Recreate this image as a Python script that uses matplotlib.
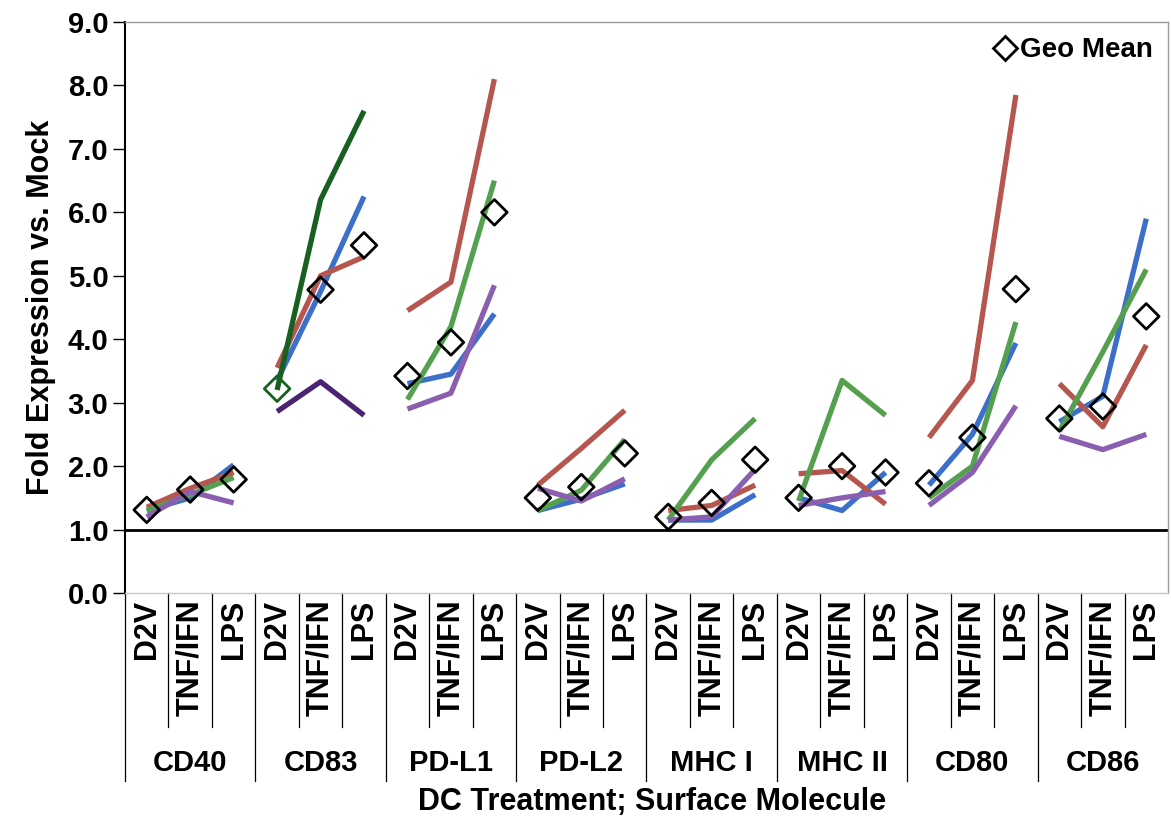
import matplotlib
matplotlib.use("Agg")
import matplotlib.pyplot as plt
from matplotlib.lines import Line2D
import numpy as np

plt.rcParams['font.family'] = ['Liberation Sans', 'DejaVu Sans']
plt.rcParams['font.weight'] = 'bold'

molecules = ['CD40', 'CD83', 'PD-L1', 'PD-L2', 'MHC I', 'MHC II', 'CD80', 'CD86']
treatments = ['D2V', 'TNF/IFN', 'LPS']

# fold expression per donor, 3 treatments per molecule
donor_blue = [1.30, 1.50, 2.02, 3.35, 4.75, 6.25, 3.30, 3.45, 4.40, 1.30, 1.48, 1.72,
              1.15, 1.15, 1.55, 1.50, 1.30, 1.90, 1.70, 2.50, 3.94, 2.70, 3.10, 5.90]
donor_red = [1.35, 1.65, 1.90, 3.55, 5.00, 5.30, 4.45, 4.90, 8.10, 1.70, 2.28, 2.88,
             1.30, 1.38, 1.70, 1.88, 1.93, 1.40, 2.45, 3.35, 7.85, 3.30, 2.62, 3.91]
donor_green = [1.30, 1.55, 1.82, 3.20, 6.20, 7.60, 3.05, 4.20, 6.50, 1.30, 1.62, 2.42,
               1.15, 2.10, 2.75, 1.45, 3.35, 2.80, 1.50, 2.00, 4.27, 2.55, 3.80, 5.10]
donor_purple = [1.20, 1.60, 1.42, 2.86, 3.33, 2.80, 2.90, 3.15, 4.85, 1.65, 1.45, 1.80,
                1.15, 1.20, 1.95, 1.38, 1.50, 1.60, 1.38, 1.90, 2.95, 2.47, 2.26, 2.50]
geo_mean = [1.31, 1.63, 1.79, 3.22, 4.78, 5.48, 3.42, 3.95, 6.00, 1.50, 1.67, 2.20,
            1.20, 1.42, 2.10, 1.50, 2.00, 1.90, 1.73, 2.45, 4.79, 2.75, 2.94, 4.36]

series = [
    (donor_blue, '#3b6fc9', '#3b6fc9'),
    (donor_red, '#b5574f', '#b5574f'),
    (donor_green, '#55a04e', '#17601f'),   # CD83 donor drawn darker
    (donor_purple, '#8a5fb0', '#4a2470'),
]

fig = plt.figure(figsize=(11.71, 8.22), dpi=100)
ax = fig.add_axes([125 / 1171, 1 - 593 / 822, (1168 - 125) / 1171, (593 - 22) / 822])

for vals, col, col83 in series:
    for g in range(len(molecules)):
        xs = np.arange(3 * g, 3 * g + 3)
        c = col83 if molecules[g] == 'CD83' else col
        ax.plot(xs, vals[3 * g:3 * g + 3], color=c, lw=3.8, solid_capstyle='butt', zorder=3)

ax.axhline(1.0, color='black', lw=2, zorder=2)

x = np.arange(len(geo_mean))
edge = ['#17601f' if molecules[i // 3] == 'CD83' and i % 3 == 0 else 'black' for i in x]
ax.scatter(x, geo_mean, marker='D', s=170, facecolors='none', edgecolors=edge,
           linewidths=2, zorder=5)

ax.set_xlim(-0.5, 23.5)
ax.set_ylim(0, 9)
ax.set_yticks(np.arange(0, 10, 1))
ax.set_yticklabels(['%.1f' % v for v in np.arange(0, 10, 1)], fontsize=21, fontweight='bold')
ax.tick_params(axis='y', direction='out', length=9, width=1, pad=3)
ax.set_xticks([])
ax.set_ylabel('Fold Expression vs. Mock', fontsize=22, fontweight='bold', labelpad=8)

ax.spines['left'].set_linewidth(1.5)
ax.spines['bottom'].set_color('#c8c8c8')
ax.spines['bottom'].set_linewidth(1)
for s in ('top', 'right'):
    ax.spines[s].set_color('#9a9a9a')
    ax.spines[s].set_linewidth(1)

# category labels and dividers below the axis
tr = ax.get_xaxis_transform()
for i in range(len(geo_mean)):
    ax.text(i, -0.012, treatments[i % 3], transform=tr, rotation=90, ha='center', va='top',
            fontsize=22, fontweight='bold')
    low = -0.33 if i % 3 == 0 else -0.235
    ax.plot([i - 0.5, i - 0.5], [0, low], transform=tr, color='black', lw=0.9, clip_on=False)
for g, name in enumerate(molecules):
    ax.text(3 * g + 1, -0.297, name, transform=tr, ha='center', va='center',
            fontsize=21, fontweight='bold')

fig.text(0.557, 1 - 802 / 822, 'DC Treatment; Surface Molecule', ha='center', va='center',
         fontsize=22, fontweight='bold')

handle = Line2D([], [], marker='D', ls='none', mfc='none', mec='black', mew=2, ms=12)
ax.legend([handle], ['Geo Mean'], loc='upper right', frameon=False, handletextpad=0.1,
          handlelength=0.9, borderaxespad=0.15, prop={'weight': 'bold', 'size': 20})

fig.savefig('out.png', dpi=100)
